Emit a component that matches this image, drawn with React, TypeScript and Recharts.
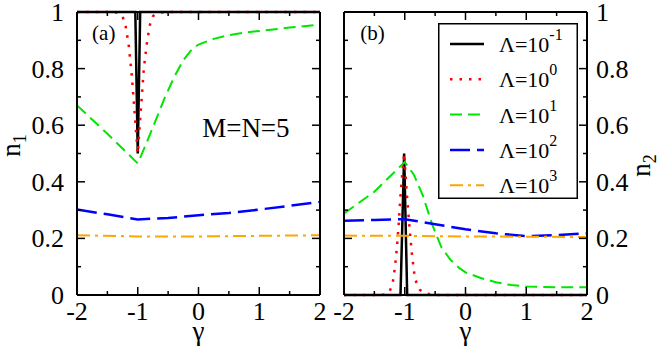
import { Legend, Line, LineChart, ReferenceDot, XAxis, YAxis } from 'recharts';

const FONT = 'Liberation Serif';
const serif = { fontFamily: FONT };

// axis ticks (minor ones included, labels only on the major ones)
const gammaTicks = [-2, -1.5, -1, -0.5, 0, 0.5, 1, 1.5, 2];
const nTicks = [0, 0.1, 0.2, 0.3, 0.4, 0.5, 0.6, 0.7, 0.8, 0.9, 1];

// series: Lambda = 10^e
const lambdaExps = ['-1', '0', '1', '2', '3'];
const seriesNames = lambdaExps.map((e) => `Λ=10^${e}`);
const seriesColors = ['#000000', '#ff0000', '#00e600', '#0000ff', '#ffa500'];
const seriesDash = ['', '2.5 7', '12 6', '20 7', '13 5 3 5'];
const seriesWidth = [2.5, 2.5, 2, 2.5, 2];

// panel (a): n1 vs gamma
const g1Black = [-2, -1.04, -1, -0.96, 2];
const n1Black = [1, 1, 0.5, 1, 1];
const g1Red = [-2, -1.4, -1.3, -1.25, -1.2, -1.15, -1.1, -1.05, -1, -0.95, -0.9, -0.85, -0.8, -0.75, -0.7, -0.6, -0.5, 2];
const n1Red = [1, 1, 0.995, 0.985, 0.95, 0.885, 0.78, 0.64, 0.5, 0.65, 0.8, 0.89, 0.955, 0.985, 0.993, 0.998, 1, 1];
const g1Green = [-2, -1.5, -1, -0.85, -0.7, -0.55, -0.4, -0.25, -0.1, 0, 0.25, 0.5, 0.75, 1, 1.5, 2];
const n1Green = [0.67, 0.57, 0.465, 0.54, 0.62, 0.7, 0.77, 0.83, 0.87, 0.885, 0.905, 0.918, 0.927, 0.933, 0.945, 0.955];
const g1Blue = [-2, -1.5, -1, -0.5, 0, 0.5, 1, 1.5, 2];
const n1Blue = [0.302, 0.285, 0.267, 0.272, 0.282, 0.29, 0.302, 0.315, 0.329];
const g1Orange = [-2, -1, 0, 1, 2];
const n1Orange = [0.211, 0.207, 0.207, 0.209, 0.211];

// panel (b): n2 vs gamma
const g2Black = [-2, -1.07, -1.01, -0.96, 2];
const n2Black = [0, 0, 0.5, 0, 0];
const g2Red = [-2, -1.4, -1.3, -1.25, -1.2, -1.16, -1.13, -1.1, -1.07, -1.04, -1.01, -0.96, -0.91, -0.88, -0.83, -0.75, -0.65, -0.5, 2];
const n2Red = [0, 0, 0.003, 0.012, 0.04, 0.1, 0.165, 0.25, 0.35, 0.43, 0.5, 0.34, 0.21, 0.14, 0.055, 0.018, 0.005, 0, 0];
const g2Green = [-2, -1.5, -1, -0.85, -0.7, -0.55, -0.4, -0.25, -0.1, 0, 0.25, 0.5, 0.75, 1, 1.5, 2];
const n2Green = [0.288, 0.365, 0.47, 0.425, 0.35, 0.25, 0.17, 0.125, 0.095, 0.08, 0.06, 0.045, 0.035, 0.03, 0.027, 0.027];
const g2Blue = [-2, -1.5, -1, -0.5, 0, 0.5, 1, 1.5, 2];
const n2Blue = [0.262, 0.265, 0.268, 0.25, 0.232, 0.218, 0.208, 0.212, 0.218];
const g2Orange = [-2, -1, 0, 1, 2];
const n2Orange = [0.21, 0.209, 0.207, 0.206, 0.205];

const pts = (xs: number[], ys: number[]) => xs.map((x, i) => ({ x, y: ys[i] }));

const panelA = [pts(g1Black, n1Black), pts(g1Red, n1Red), pts(g1Green, n1Green), pts(g1Blue, n1Blue), pts(g1Orange, n1Orange)];
const panelB = [pts(g2Black, n2Black), pts(g2Red, n2Red), pts(g2Green, n2Green), pts(g2Blue, n2Blue), pts(g2Orange, n2Orange)];

const isMajorX = (v: number) => Math.abs(v - Math.round(v)) < 1e-6;
const isMajorY = (v: number) => Math.round(v * 10) % 2 === 0;
const yText = (v: number) => (v === 0 ? '0' : v === 1 ? '1' : v.toFixed(1));

function XTick(props: any) {
  const { x, y, payload, side, showLabel } = props;
  const v = payload.value;
  const len = isMajorX(v) ? 8 : 4;
  const dir = side === 'top' ? 1 : -1;
  return (
    <g>
      <line x1={x} x2={x} y1={y} y2={y + dir * len} stroke="#000" strokeWidth={1.5} />
      {showLabel && isMajorX(v) && (
        <text x={x} y={y + 25} textAnchor="middle" fontSize={26} fontFamily={FONT} style={serif} fill="#000">
          {v}
        </text>
      )}
    </g>
  );
}

function YTick(props: any) {
  const { x, y, payload, side, showLabel } = props;
  const v = payload.value;
  const len = isMajorY(v) ? 8 : 4;
  const dir = side === 'left' ? 1 : -1;
  return (
    <g>
      <line x1={x} x2={x + dir * len} y1={y} y2={y} stroke="#000" strokeWidth={1.5} />
      {showLabel && isMajorY(v) && (
        <text
          x={side === 'left' ? x - 13 : x + 9}
          y={y + 9}
          textAnchor={side === 'left' ? 'end' : 'start'}
          fontSize={26}
          fontFamily={FONT}
          style={serif}
          fill="#000"
        >
          {yText(v)}
        </text>
      )}
    </g>
  );
}

function NLabel(props: any) {
  const { viewBox, sub, dx, dy } = props;
  if (!viewBox) return null;
  const cx = viewBox.x + dx;
  const cy = viewBox.y + viewBox.height / 2 + dy;
  return (
    <text
      x={cx}
      y={cy}
      transform={`rotate(-90, ${cx}, ${cy})`}
      textAnchor="middle"
      fontSize={27}
      fontFamily={FONT}
      style={serif}
      fill="#000"
    >
      n
      <tspan dy={6} fontSize={18}>
        {sub}
      </tspan>
    </text>
  );
}

function GammaLabel(props: any) {
  const { viewBox } = props;
  if (!viewBox) return null;
  return (
    <text
      x={viewBox.x + viewBox.width / 2}
      y={viewBox.y + viewBox.height - 14}
      textAnchor="middle"
      fontSize={27}
      fontFamily={FONT}
      style={serif}
      fill="#000"
    >
      γ
    </text>
  );
}

function TagLabel(props: any) {
  const { viewBox, value, size } = props;
  if (!viewBox) return null;
  const cx = viewBox.x + (viewBox.width || 0) / 2;
  const cy = viewBox.y + (viewBox.height || 0) / 2;
  return (
    <text x={cx} y={cy} dy="0.35em" textAnchor="middle" fontSize={size} fontFamily={FONT} style={serif} fill="#000">
      {value}
    </text>
  );
}

function LegendBox(props: any) {
  const payload: any[] = props.payload || [];
  const entries = seriesNames.map((name, i) => {
    const hit = payload.find((p) => p.value === name);
    return { name, color: hit ? hit.color : seriesColors[i], i };
  });
  return (
    <svg width={140} height={176} style={{ display: 'block' }}>
      <rect x={0.75} y={0.75} width={138.5} height={174.5} fill="#fff" stroke="#000" strokeWidth={1.5} />
      {entries.map((e) => {
        const y = 21 + e.i * 35.3;
        return (
          <g key={e.name}>
            <line
              x1={12}
              x2={46}
              y1={y}
              y2={y}
              stroke={e.color}
              strokeWidth={seriesWidth[e.i]}
              strokeDasharray={seriesDash[e.i] || undefined}
            />
            <text x={61} y={y + 8} fontSize={22} fontFamily={FONT} style={serif} fill="#000">
              Λ=10
              <tspan dy={-12} fontSize={16}>
                {lambdaExps[e.i]}
              </tspan>
            </text>
          </g>
        );
      })}
    </svg>
  );
}

function Panel({ data, side, tag, tagX, sub }: { data: { x: number; y: number }[][]; side: 'left' | 'right'; tag: string; tagX: number; sub: string }) {
  const isLeft = side === 'left';
  return (
    <LineChart
      width={332}
      height={354}
      margin={isLeft ? { top: 11, right: 11, bottom: 0, left: 0 } : { top: 11, right: 0, bottom: 0, left: 11 }}
    >
      <XAxis
        xAxisId="b"
        type="number"
        dataKey="x"
        domain={[-2, 2]}
        ticks={gammaTicks}
        interval={0}
        height={59}
        tickSize={0}
        tickMargin={0}
        axisLine={{ stroke: '#000', strokeWidth: 2 }}
        tick={(p: any) => <XTick {...p} side="bottom" showLabel />}
        label={<GammaLabel />}
      />
      <XAxis
        xAxisId="t"
        orientation="top"
        type="number"
        dataKey="x"
        domain={[-2, 2]}
        ticks={gammaTicks}
        interval={0}
        height={1}
        tickSize={0}
        tickMargin={0}
        axisLine={{ stroke: '#000', strokeWidth: 2 }}
        tick={(p: any) => <XTick {...p} side="top" />}
      />
      <YAxis
        yAxisId="l"
        type="number"
        domain={[0, 1]}
        ticks={nTicks}
        interval={0}
        width={isLeft ? 77 : 1}
        tickSize={0}
        tickMargin={0}
        axisLine={{ stroke: '#000', strokeWidth: 2 }}
        tick={(p: any) => <YTick {...p} side="left" showLabel={isLeft} />}
        label={isLeft ? <NLabel sub={sub} dx={20} dy={-8} /> : undefined}
      />
      <YAxis
        yAxisId="r"
        orientation="right"
        type="number"
        domain={[0, 1]}
        ticks={nTicks}
        interval={0}
        width={isLeft ? 1 : 77}
        tickSize={0}
        tickMargin={0}
        axisLine={{ stroke: '#000', strokeWidth: 2 }}
        tick={(p: any) => <YTick {...p} side="right" showLabel={!isLeft} />}
        label={!isLeft ? <NLabel sub={sub} dx={63} dy={12} /> : undefined}
      />
      {data.map((d, i) => (
        <Line
          key={seriesNames[i]}
          xAxisId={i === 0 ? 't' : 'b'}
          yAxisId={i === 0 ? 'r' : 'l'}
          data={d}
          dataKey="y"
          name={seriesNames[i]}
          type="linear"
          stroke={seriesColors[i]}
          strokeWidth={seriesWidth[i]}
          strokeDasharray={seriesDash[i] || undefined}
          dot={false}
          activeDot={false}
          isAnimationActive={false}
        />
      ))}
      <ReferenceDot
        xAxisId="b"
        yAxisId="l"
        x={tagX}
        y={0.926}
        r={0}
        fill="none"
        stroke="none"
        label={<TagLabel value={tag} size={21} />}
      />
      {isLeft && (
        <ReferenceDot
          xAxisId="b"
          yAxisId="l"
          x={0.78}
          y={0.59}
          r={0}
          fill="none"
          stroke="none"
          label={<TagLabel value="M=N=5" size={27} />}
        />
      )}
      {!isLeft && (
        <Legend
          layout="vertical"
          verticalAlign="middle"
          align="center"
          content={(p: any) => <LegendBox {...p} />}
          wrapperStyle={{ left: 106, top: 23, width: 140, height: 176 }}
        />
      )}
    </LineChart>
  );
}

export default function App() {
  return (
    <div style={{ position: 'absolute', left: 0, top: 0, width: 664, height: 354, background: '#fff', fontFamily: FONT }}>
      <div style={{ position: 'absolute', left: 0, top: 0 }}>
        <Panel data={panelA} side="left" tag="(a)" tagX={-1.56} sub="1" />
      </div>
      <div style={{ position: 'absolute', left: 332, top: 0 }}>
        <Panel data={panelB} side="right" tag="(b)" tagX={-1.53} sub="2" />
      </div>
    </div>
  );
}
